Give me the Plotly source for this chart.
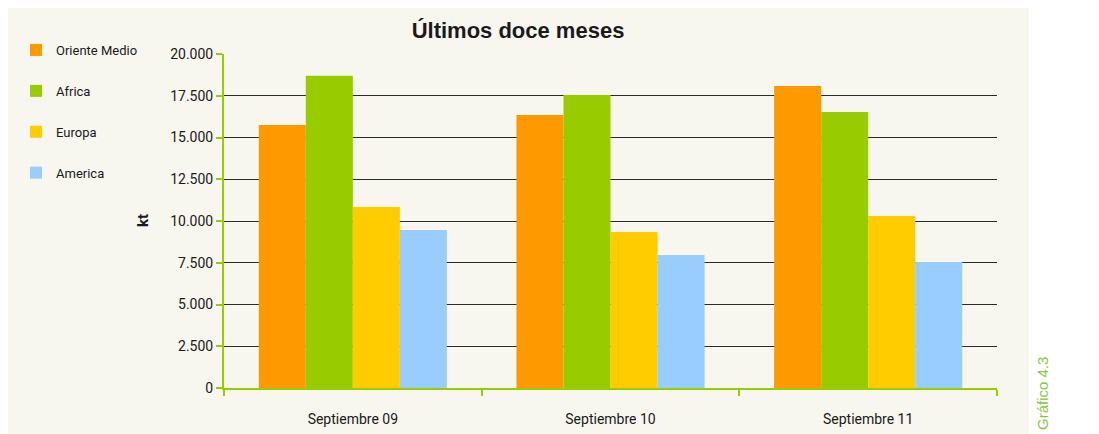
import plotly.graph_objects as go

categories = ["Septiembre 09", "Septiembre 10", "Septiembre 11"]
series_names = ["Oriente Medio", "Africa", "Europa", "America"]
oriente_medio = [15750, 16350, 18080]
africa = [18700, 17550, 16530]
europa = [10840, 9340, 10300]
america = [9460, 7960, 7550]
y_ticks = [0, 2500, 5000, 7500, 10000, 12500, 15000, 17500, 20000]

colors = ["#ff9900", "#99cc00", "#ffcc00", "#99ccff"]
values = [oriente_medio, africa, europa, america]

# page body has an 8px default margin; shift everything to compensate
OFF = 8
W, H = 1099 - OFF, 434 - OFF
def sx(px):
    return px - OFF
def sy(py):
    return py - OFF

L, R, T, B = sx(224), 1099 - 997, sy(54), 434 - 388
pw, ph = W - L - R, H - T - B

FONT = "Roboto, Liberation Sans Narrow, sans-serif"
GREEN = "#99cc00"

fig = go.Figure()
for name, vals, col in zip(series_names, values, colors):
    fig.add_trace(go.Bar(x=categories, y=vals, name=name, marker_color=col,
                         marker_line_width=0, legendgroup=name))

def px2paper_x(px):
    return (sx(px) - L) / pw

def px2paper_y(py):
    return (H - B - sy(py)) / ph

fig.update_layout(
    width=W, height=H,
    margin=dict(l=L, r=R, t=T, b=B, autoexpand=False),
    paper_bgcolor="white",
    plot_bgcolor="rgba(0,0,0,0)",
    separators=",.",
    barmode="group",
    bargap=0.27,
    bargroupgap=0,
    font=dict(family=FONT, color="#1a1a1a", size=14),
    title=dict(text="<b>Últimos doce meses</b>", x=sx(518) / W, xref="container", xanchor="center",
               y=1 - sy(30) / H, yref="container", yanchor="middle",
               font=dict(family="Liberation Sans, Arial, sans-serif", size=22, color="#1a1a1a")),
    legend=dict(xref="container", yref="container", x=sx(16) / W, y=1 - sy(35) / H,
                xanchor="left", yanchor="top", traceorder="grouped",
                tracegroupgap=21, bgcolor="rgba(0,0,0,0)",
                font=dict(family=FONT, size=13, color="#1a1a1a"),
                itemwidth=30),
    shapes=[dict(type="rect", xref="paper", yref="paper", layer="below",
                 x0=px2paper_x(8), x1=px2paper_x(1029),
                 y0=px2paper_y(440), y1=px2paper_y(6),
                 fillcolor="#f7f7f0", line_width=0)],
    annotations=[
        dict(text="Gráfico 4.3", xref="paper", yref="paper",
             x=px2paper_x(1042), y=px2paper_y(394), textangle=-90,
             showarrow=False, xanchor="center", yanchor="middle",
             font=dict(family="Liberation Sans, Arial, sans-serif", size=15, color="#8cc63f")),
        dict(text="<b>kt</b>", xref="paper", yref="paper",
             x=px2paper_x(143), y=px2paper_y(221), textangle=-90,
             showarrow=False, xanchor="center", yanchor="middle",
             font=dict(family=FONT, size=15, color="#1a1a1a")),
    ],
)

fig.update_yaxes(range=[0, 20000], tickvals=y_ticks, tickformat=",d",
                 automargin=False,
                 showgrid=True, gridcolor="#2a2a2a", gridwidth=1,
                 zeroline=False, showline=True, linecolor=GREEN, linewidth=2,
                 ticks="outside", ticklen=6, tickwidth=2, tickcolor=GREEN,
                 tickfont=dict(family=FONT, size=14, color="#1a1a1a"))
fig.update_xaxes(automargin=False, showline=True, linecolor=GREEN, linewidth=2,
                 ticks="outside", ticklen=6, tickwidth=2, tickcolor=GREEN,
                 tickson="boundaries", showgrid=False, ticklabelstandoff=17,
                 tickfont=dict(family=FONT, size=14, color="#1a1a1a"))

fig.write_html("out.html")
